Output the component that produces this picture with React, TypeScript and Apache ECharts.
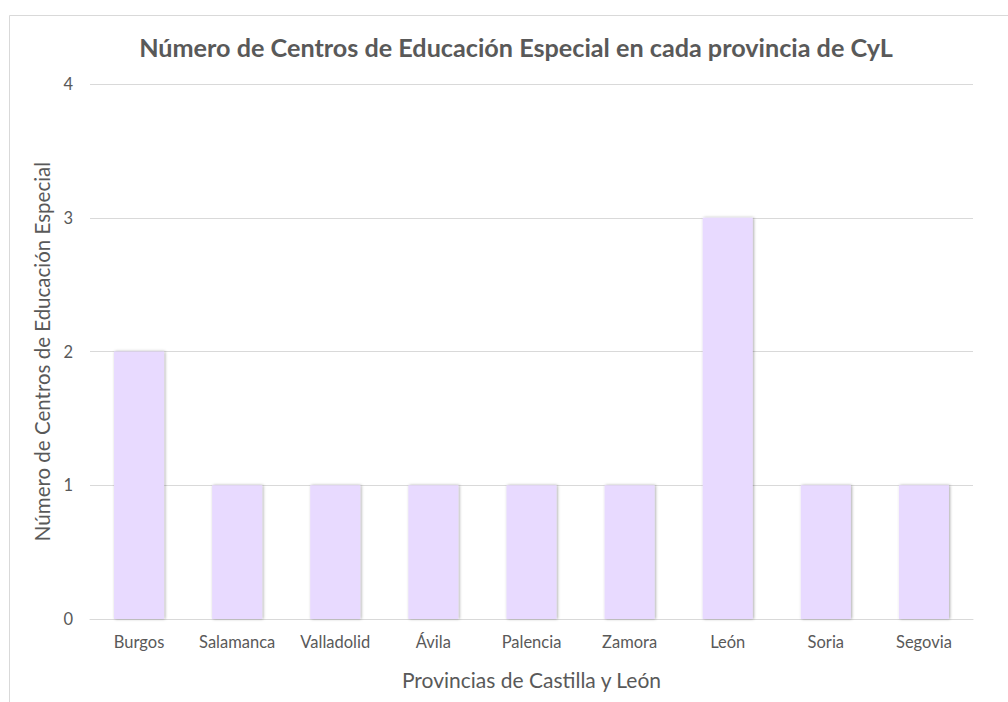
import React, { useEffect, useRef } from "react";
import * as echarts from "echarts";

const provinces = ["Burgos", "Salamanca", "Valladolid", "Ávila", "Palencia", "Zamora", "León", "Soria", "Segovia"];
const centros = [2, 1, 1, 1, 1, 1, 3, 1, 1];
const yTicks = [0, 1, 2, 3, 4];

const titleText = "Número de Centros de Educación Especial en cada provincia de CyL";
const xName = "Provincias de Castilla y León";
const yName = "Número de Centros de Educación Especial";

export default function App() {
  const ref = useRef<HTMLDivElement>(null);
  useEffect(() => {
    if (!ref.current) return;
    const chart = echarts.init(ref.current, undefined, { renderer: "svg" });
    const font = "Lato, 'Open Sans', sans-serif";
    chart.setOption({
      animation: false,
      backgroundColor: "#ffffff",
      textStyle: { fontFamily: font },
      title: {
        text: titleText,
        left: 511,
        top: 29,
        textAlign: "center",
        textStyle: { fontSize: 25.2, fontWeight: "bold", color: "#595959", fontFamily: font },
      },
      graphic: [
        {
          type: "rect",
          shape: { x: 9.5, y: 15.5, width: 1100, height: 800 },
          style: { fill: "none", stroke: "#d9d9d9", lineWidth: 1 },
          silent: true,
        },
      ],
      grid: { left: 90, right: 35, top: 84, bottom: 83, containLabel: false },
      xAxis: {
        type: "category",
        data: provinces,
        axisLine: { show: true, lineStyle: { color: "#d9d9d9", width: 1 } },
        axisTick: { show: false },
        axisLabel: { color: "#595959", fontSize: 16.5, margin: 14, interval: 0, fontFamily: font },
        name: xName,
        nameLocation: "middle",
        nameGap: 50,
        nameTextStyle: { color: "#595959", fontSize: 21, fontFamily: font },
      },
      yAxis: {
        type: "value",
        min: 0,
        max: yTicks[yTicks.length - 1],
        interval: 1,
        axisLine: { show: false },
        axisTick: { show: false },
        splitLine: { lineStyle: { color: "#d9d9d9", width: 1 } },
        axisLabel: { color: "#595959", fontSize: 16.5, margin: 17, fontFamily: font },
        name: yName,
        nameLocation: "middle",
        nameGap: 33,
        nameTextStyle: { color: "#595959", fontSize: 20.5, fontFamily: font },
      },
      series: [
        {
          type: "bar",
          data: centros,
          barWidth: "51%",
          itemStyle: {
            color: "#e8daff",
            shadowColor: "rgba(0,0,0,0.35)",
            shadowBlur: 3,
            shadowOffsetX: 1,
            shadowOffsetY: 0,
          },
        },
      ],
    });
    return () => chart.dispose();
  }, []);
  return (
    <div
      ref={ref}
      style={{ position: "fixed", left: 0, top: 0, width: 1008, height: 702 }}
    />
  );
}
